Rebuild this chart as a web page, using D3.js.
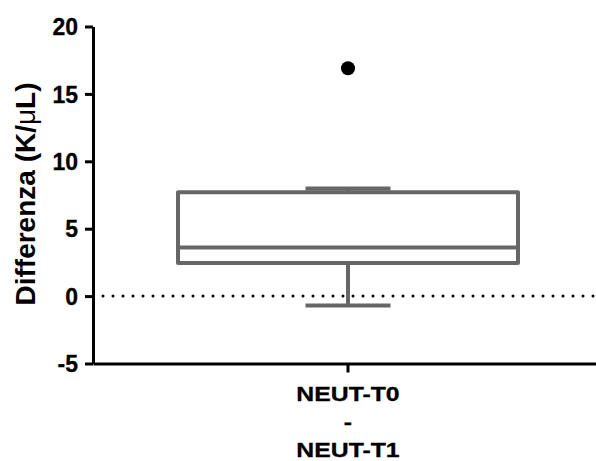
<!DOCTYPE html>
<meta charset="utf-8">
<script src="https://d3js.org/d3.v7.min.js"></script>
<style>
  body { margin: 0; background: #fff; }
  text { font-family: Arial, "Liberation Sans", sans-serif; font-weight: bold; }
</style>
<div id="my_dataviz"></div>
<script>

// data
var categories = ["NEUT-T0 - NEUT-T1"];
var labelLines = [["NEUT-T0", "-", "NEUT-T1"]];
var q1 = [2.45];
var medians = [3.6];
var q3 = [7.7];
var whiskerLow = [-0.7];
var whiskerHigh = [7.98];
var outliers = [[16.9]];
var yTicks = [-5, 0, 5, 10, 15, 20];

var width = 596, height = 461;
var boxColor = "#666666";

var svg = d3.select("#my_dataviz")
  .append("svg")
    .attr("width", width)
    .attr("height", height);

var y = d3.scaleLinear()
  .domain([-5, 20])
  .range([363.5, 26.5]);

var x = d3.scaleBand()
  .domain(categories)
  .range([93, 603]);

var boxW = x.bandwidth() * 2 / 3;
var capW = boxW / 4;

// dotted zero line
svg.append("line")
  .attr("x1", 103)
  .attr("x2", width)
  .attr("y1", y(0))
  .attr("y2", y(0))
  .attr("stroke", "black")
  .attr("stroke-width", 3)
  .attr("stroke-linecap", "round")
  .attr("stroke-dasharray", "0,10");

// boxes
var g = svg.selectAll(".box")
  .data(categories)
  .enter()
  .append("g")
    .attr("class", "box");

g.each(function(d, i) {
  var sel = d3.select(this);
  var cx = x(d) + x.bandwidth() / 2;

  // whiskers
  sel.append("line")
    .attr("x1", cx).attr("x2", cx)
    .attr("y1", y(q3[i])).attr("y2", y(whiskerHigh[i]));
  sel.append("line")
    .attr("x1", cx).attr("x2", cx)
    .attr("y1", y(q1[i])).attr("y2", y(whiskerLow[i]));
  sel.append("line")
    .attr("x1", cx - capW / 2).attr("x2", cx + capW / 2)
    .attr("y1", y(whiskerHigh[i])).attr("y2", y(whiskerHigh[i]));
  sel.append("line")
    .attr("x1", cx - capW / 2).attr("x2", cx + capW / 2)
    .attr("y1", y(whiskerLow[i])).attr("y2", y(whiskerLow[i]));

  // box
  sel.append("rect")
    .attr("x", cx - boxW / 2)
    .attr("y", y(q3[i]))
    .attr("width", boxW)
    .attr("height", y(q1[i]) - y(q3[i]))
    .attr("fill", "white");

  // median
  sel.append("line")
    .attr("x1", cx - boxW / 2).attr("x2", cx + boxW / 2)
    .attr("y1", y(medians[i])).attr("y2", y(medians[i]));

  sel.selectAll("line, rect")
    .attr("stroke", boxColor)
    .attr("stroke-width", 4)
    .attr("stroke-linejoin", "round")
    .attr("stroke-linecap", "butt");

  // outliers
  sel.selectAll("circle")
    .data(outliers[i])
    .enter()
    .append("circle")
      .attr("cx", cx)
      .attr("cy", function(v) { return y(v); })
      .attr("r", 7)
      .attr("fill", "black");
});

// y axis (plain hyphen for negatives, like the picture)
var yAxis = svg.append("g")
  .attr("transform", "translate(93,0)")
  .call(d3.axisLeft(y).tickValues(yTicks).tickSize(8).tickSizeOuter(0).tickPadding(7)
    .tickFormat(function(d) { return String(d); }));

yAxis.selectAll("text")
  .attr("font-size", "23px")
  .attr("font-weight", "bold")
  .attr("fill", "black")
  .attr("stroke", "black")
  .attr("stroke-width", 0.3)
  .attr("dy", "0.36em");

// x axis
var xAxis = svg.append("g")
  .attr("transform", "translate(0," + y(-5) + ")")
  .call(d3.axisBottom(x).tickSize(9).tickSizeOuter(0).tickFormat(""));

svg.selectAll(".domain, .tick line")
  .attr("stroke", "black")
  .attr("stroke-width", 3);

// multi-line category labels (a bit wider than the font, as in the picture)
xAxis.selectAll(".tick")
  .each(function(d, i) {
    var t = d3.select(this).append("text")
      .attr("fill", "black")
      .attr("stroke", "black")
      .attr("stroke-width", 0.3)
      .attr("font-size", "20px")
      .attr("font-weight", "bold")
      .attr("text-anchor", "middle")
      .attr("transform", "scale(1.24,1)");
    labelLines[i].forEach(function(line, k) {
      t.append("tspan")
        .attr("x", 0)
        .attr("y", 37.5 + k * 28)
        .text(line);
    });
  });

// y axis title
var title = svg.append("text")
  .attr("transform", "translate(35,194) rotate(-90)")
  .attr("text-anchor", "middle")
  .attr("font-size", "28px")
  .attr("fill", "black");
title.append("tspan").text("Differenza (K/");
title.append("tspan").attr("font-weight", "normal").text("μ");
title.append("tspan").text("L)");

</script>
